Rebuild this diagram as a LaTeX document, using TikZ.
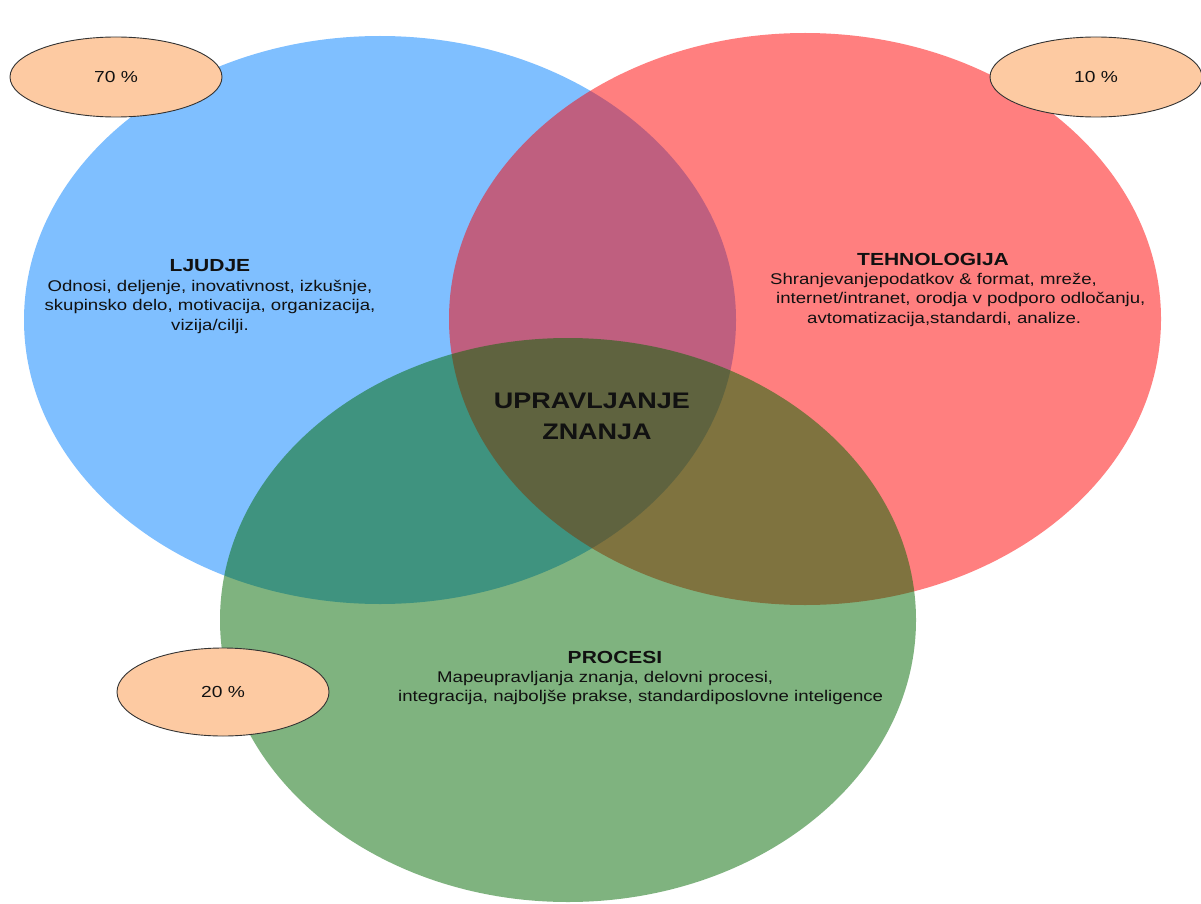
\documentclass[tikz,border=0pt]{standalone}
\usepackage{fontspec}
\setmainfont[FakeStretch=1.2]{Liberation Sans}
\usetikzlibrary{shapes.geometric}
\definecolor{ljudjeblue}{RGB}{0,128,255}
\definecolor{tehred}{RGB}{255,0,0}
\definecolor{procgreen}{RGB}{0,104,0}
\definecolor{peach}{RGB}{253,202,162}
\definecolor{ink}{RGB}{17,17,17}
\tikzset{
  area/.style={ellipse, inner sep=0pt, draw=none, fill opacity=0.5},
  badge/.style={ellipse, inner sep=0pt, fill=peach, draw=black!80, line width=0.9pt,
    font=\fontsize{16}{19}\selectfont, text=ink},
  heading/.style={inner sep=0pt, font=\bfseries\fontsize{17.5}{21}\selectfont, text=ink},
  body/.style={inner sep=0pt, font=\fontsize{15.5}{19.5}\selectfont, text=ink},
  core/.style={inner sep=0pt, align=center, font=\bfseries\fontsize{22.5}{31}\selectfont, text=ink}
}
\begin{document}
\begin{tikzpicture}[x=1pt,y=-1pt]
\useasboundingbox (0,0) rectangle (1201,904);
\fill[white] (0,0) rectangle (1201,904);

% three overlapping areas
\node[area, fill=ljudjeblue, minimum width=712pt, minimum height=568pt] (people) at (380,320) {};
\node[area, fill=tehred, minimum width=712pt, minimum height=572pt] (tech) at (805,319) {};
\node[area, fill=procgreen, minimum width=696pt, minimum height=564pt] (proc) at (568,620) {};

% share badges
\node[badge, minimum width=212pt, minimum height=80pt] (p70) at (116,77) {70 \%};
\node[badge, minimum width=212pt, minimum height=80pt] (p10) at (1096,77) {10 \%};
\node[badge, minimum width=212pt, minimum height=88pt] (p20) at (223,692) {20 \%};

% people
\node[heading] (ljt) at (210,266) {LJUDJE};
\node[body, align=center, anchor=north] (ljb) at (210,280)
  {Odnosi, deljenje, inovativnost, izkušnje,\\
   skupinsko delo, motivacija, organizacija,\\
   vizija/cilji.};

% technology
\node[heading] (tet) at (933,259) {TEHNOLOGIJA};
\node[body, align=left, anchor=north west] (teb) at (770,273)
  {Shranjevanjepodatkov \& format, mreže,\\
   \hspace*{6pt}internet/intranet, orodja v podporo odločanju,\\
   \hspace*{37pt}avtomatizacija,standardi, analize.};

% processes
\node[heading] (prt) at (615,657) {PROCESI};
\node[body, align=left, anchor=north west] (prb) at (398,671)
  {\hspace*{39pt}Mapeupravljanja znanja, delovni procesi,\\
   integracija, najboljše prakse, standardiposlovne inteligence};

% centre
\node[core] (km) at (592,416) {UPRAVLJANJE\\\hspace*{10pt}ZNANJA};
\end{tikzpicture}
\end{document}
